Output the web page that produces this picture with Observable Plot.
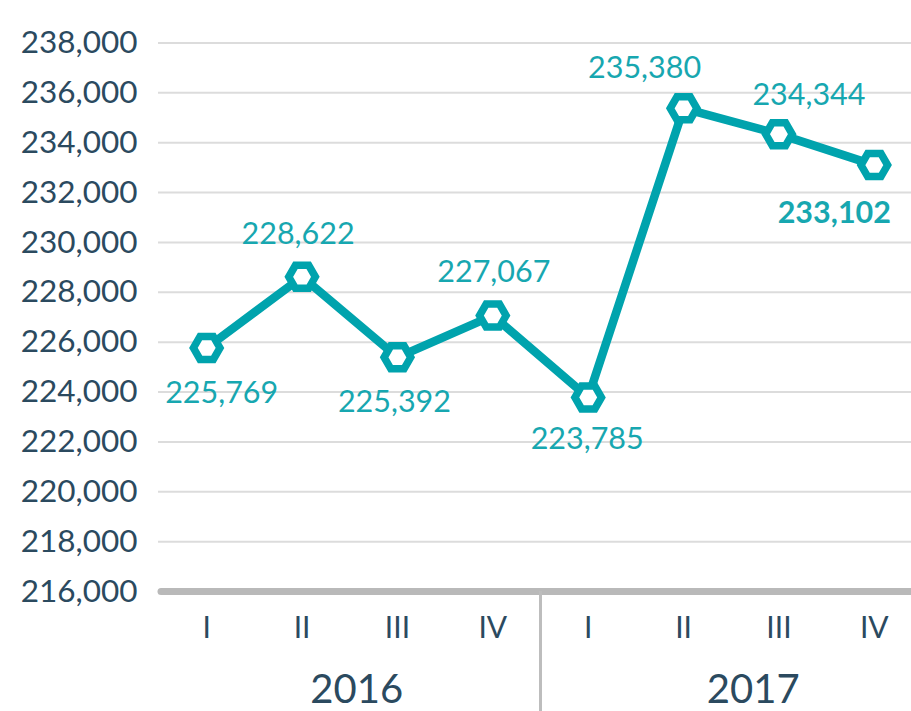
<!DOCTYPE html>
<html>
<head>
<meta charset="utf-8">
<script src="https://cdn.jsdelivr.net/npm/d3@7"></script>
<script src="https://cdn.jsdelivr.net/npm/@observablehq/plot@0.6"></script>
<style>
  html, body { margin: 0; padding: 0; background: #fff; }
  #chart { width: 911px; height: 711px; overflow: hidden; }
</style>
</head>
<body>
<div id="chart"></div>
<script>
// ---- data ----
const years = ["2016", "2017"];
const quarters = ["I", "II", "III", "IV"];
const values = [225769, 228622, 225392, 227067, 223785, 235380, 234344, 233102];
const yTicks = [216000, 218000, 220000, 222000, 224000, 226000, 228000, 230000, 232000, 234000, 236000, 238000];

// ---- styling / label placement (pixels) ----
const labelPlacement = [
  {dx: 15, dy: 45}, {dx: -4, dy: -43}, {dx: -3, dy: 45}, {dx: 1, dy: -43},
  {dx: -1, dy: 42}, {dx: -39, dy: -40}, {dx: 30, dy: -39}, {dx: -40, dy: 48}
];
const yearOffsets = [7, 22];
const teal = "#00a3ad";
const labelTeal = "#17a7b0";
const ink = "#2b4a5f";

const rows = [];
years.forEach((yr, yi) => quarters.forEach((q, qi) => {
  const i = yi * quarters.length + qi;
  rows.push({i, year: yr, quarter: q, value: values[i]});
}));
const last = rows.length - 1;
const yearMids = years.map(yr => {
  const idx = rows.filter(d => d.year === yr).map(d => d.i);
  return {year: yr, x: d3.mean(idx)};
});
const boundaries = years.slice(1).map(yr => ({x: d3.min(rows.filter(d => d.year === yr), d => d.i) - 0.5}));
const fmt = d3.format(",");

const labelMarks = rows.map((d, k) => Plot.text([d], {
  x: "i", y: "value", text: r => fmt(r.value),
  dx: labelPlacement[k].dx, dy: labelPlacement[k].dy,
  fill: labelTeal, fontSize: 30.5, fontWeight: k === last ? "bold" : "normal"
}));
const yearMarks = yearMids.map((d, k) => Plot.text([d], {
  x: "x", y: () => 216000, text: "year", dx: yearOffsets[k], dy: 99, fontSize: 40, fill: ink
}));

const chart = Plot.plot({
  width: 911,
  height: 711,
  marginLeft: 158,
  marginRight: 0,
  marginTop: 42.5,
  marginBottom: 120,
  style: {fontFamily: "Lato, sans-serif", background: "white", overflow: "visible"},
  x: {type: "linear", domain: [-0.5, rows.length - 0.5], range: [158.5, 921.5], axis: null},
  y: {domain: [216000, 238000], axis: null},
  marks: [
    Plot.ruleY(yTicks.slice(1), {stroke: "#dcdcdc", strokeWidth: 2}),
    Plot.ruleY([216000], {stroke: "#b9b9b9", strokeWidth: 7, strokeLinecap: "round", insetLeft: 3}),
    Plot.ruleX(boundaries, {x: "x", y1: 216000, y2: 216000, insetBottom: -125, stroke: "#bdbdbd", strokeWidth: 3}),
    Plot.axisY({ticks: yTicks, tickFormat: fmt, tickSize: 0, tickPadding: 21, fontSize: 31.5, color: ink, label: null}),
    Plot.axisX({ticks: rows.map(d => d.i), tickFormat: i => rows[i].quarter, tickSize: 0, tickPadding: 25, fontSize: 30, color: ink, label: null}),
    ...yearMarks,
    Plot.line(rows, {x: "i", y: "value", stroke: teal, strokeWidth: 8.5, strokeLinejoin: "round"}),
    Plot.dot(rows, {x: "i", y: "value", symbol: "hexagon", r: 11.5, rotate: 90, fill: "white", stroke: teal, strokeWidth: 7.5}),
    ...labelMarks
  ]
});
document.getElementById("chart").appendChild(chart);
</script>
</body>
</html>
